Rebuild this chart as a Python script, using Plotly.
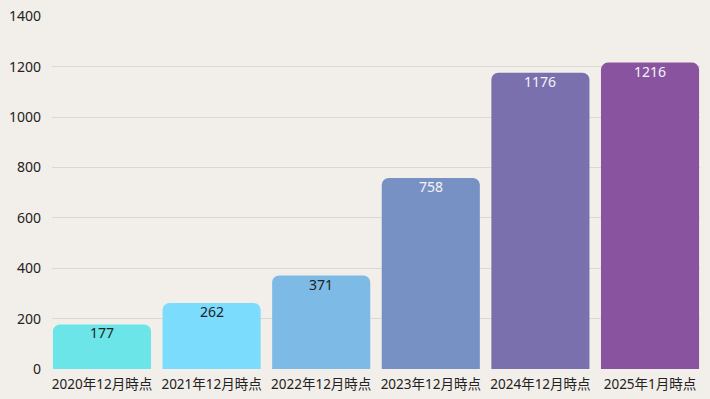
import plotly.graph_objects as go

categories = ["2020年12月時点", "2021年12月時点", "2022年12月時点", "2023年12月時点", "2024年12月時点", "2025年1月時点"]
values = [177, 262, 371, 758, 1176, 1216]
bar_colors = ["#6ce5e8", "#7cdcfd", "#7ebae6", "#7891c4", "#7a70ae", "#8a53a0"]
text_colors = ["#222222", "#222222", "#222222", "#f4f4f8", "#f4f4f8", "#f4f4f8"]
y_ticks = [0, 200, 400, 600, 800, 1000, 1200, 1400]

font_family = "Noto Sans, Noto Sans CJK JP, sans-serif"
xs = list(range(len(categories)))

fig = go.Figure()
fig.add_trace(go.Bar(
    x=xs,
    y=values,
    marker=dict(color=bar_colors, cornerradius=7, line=dict(width=0)),
    width=0.895,
    hoverinfo="skip",
))

for xv, v, c in zip(xs, values, text_colors):
    fig.add_annotation(
        x=xv, y=v, text=str(v), showarrow=False,
        yanchor="middle", yshift=-8.5,
        font=dict(color=c, size=14, family=font_family),
    )

fig.update_layout(
    width=710, height=399,
    margin=dict(l=52, r=10, t=16, b=30, autoexpand=False),
    paper_bgcolor="#f2eee9",
    plot_bgcolor="#f2eee9",
    font=dict(family=font_family, size=13.5, color="#222222"),
    showlegend=False,
)
fig.update_xaxes(
    tickmode="array",
    tickvals=xs,
    ticktext=categories,
    range=[-0.456, 5.456],
    showgrid=False,
    zeroline=False,
    showline=False,
    ticks="",
    automargin=False,
    ticklabelstandoff=5,
    tickfont=dict(size=13.5, color="#222222"),
)
fig.update_yaxes(
    range=[0, 1401],
    tickvals=y_ticks,
    showgrid=True,
    gridcolor="#dcd6d4",
    gridwidth=1,
    zeroline=False,
    ticks="",
    automargin=False,
    ticklabelstandoff=10,
    tickfont=dict(size=14, color="#222222"),
)

fig.write_html("out.html")
